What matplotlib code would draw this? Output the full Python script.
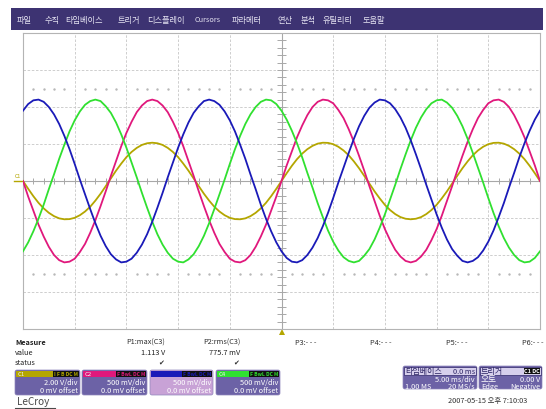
import numpy as np
import matplotlib.pyplot as plt
from matplotlib.patches import Rectangle, FancyBboxPatch, Polygon

plt.rcParams['font.family'] = ['Noto Sans CJK KR', 'DejaVu Sans']

W, H = 546, 410

# acquisition: 0.5 ms between plotted samples, 5 ms/div, 10 divisions
time_ms = [i * 0.5 for i in range(-50, 51)]

c1_volts = [0.00, -0.42, -0.82, -1.18, -1.48, -1.72, -1.90, -2.02, -2.07, -2.06,
            -1.99, -1.85, -1.65, -1.39, -1.06, -0.69, -0.28, 0.14, 0.56, 0.94,
            1.29, 1.57, 1.79, 1.95, 2.04, 2.07, 2.04, 1.95, 1.79, 1.57,
            1.29, 0.94, 0.56, 0.14, -0.28, -0.69, -1.06, -1.39, -1.65, -1.85,
            -1.99, -2.06, -2.07, -2.02, -1.90, -1.72, -1.48, -1.18, -0.82, -0.42,
            0.00, 0.42, 0.82, 1.18, 1.48, 1.72, 1.90, 2.02, 2.07, 2.06,
            1.99, 1.85, 1.65, 1.39, 1.06, 0.69, 0.28, -0.14, -0.56, -0.94,
            -1.29, -1.57, -1.79, -1.95, -2.04, -2.07, -2.04, -1.95, -1.79, -1.57,
            -1.29, -0.94, -0.56, -0.14, 0.28, 0.69, 1.06, 1.39, 1.65, 1.85,
            1.99, 2.06, 2.07, 2.02, 1.90, 1.72, 1.48, 1.18, 0.82, 0.42, 0.00]
c2_volts = [0.00, -0.21, -0.40, -0.59, -0.75, -0.89, -1.00, -1.07, -1.10, -1.09,
            -1.05, -0.96, -0.85, -0.70, -0.53, -0.34, -0.14, 0.07, 0.27, 0.47,
            0.65, 0.80, 0.93, 1.02, 1.08, 1.10, 1.08, 1.02, 0.93, 0.80,
            0.65, 0.47, 0.27, 0.07, -0.14, -0.34, -0.53, -0.70, -0.85, -0.96,
            -1.05, -1.09, -1.10, -1.07, -1.00, -0.89, -0.75, -0.59, -0.40, -0.21,
            0.00, 0.21, 0.40, 0.59, 0.75, 0.89, 1.00, 1.07, 1.10, 1.09,
            1.05, 0.96, 0.85, 0.70, 0.53, 0.34, 0.14, -0.07, -0.27, -0.47,
            -0.65, -0.80, -0.93, -1.02, -1.08, -1.10, -1.08, -1.02, -0.93, -0.80,
            -0.65, -0.47, -0.27, -0.07, 0.14, 0.34, 0.53, 0.70, 0.85, 0.96,
            1.05, 1.09, 1.10, 1.07, 1.00, 0.89, 0.75, 0.59, 0.40, 0.21, 0.00]
c3_volts = [0.95, 1.04, 1.09, 1.10, 1.07, 1.00, 0.90, 0.77, 0.61, 0.43,
            0.23, 0.02, -0.18, -0.38, -0.57, -0.74, -0.88, -0.99, -1.06, -1.10,
            -1.09, -1.05, -0.97, -0.86, -0.72, -0.55, -0.36, -0.16, 0.05, 0.25,
            0.45, 0.63, 0.79, 0.92, 1.01, 1.08, 1.10, 1.08, 1.03, 0.94,
            0.82, 0.67, 0.49, 0.30, 0.09, -0.11, -0.32, -0.51, -0.68, -0.83,
            -0.95, -1.04, -1.09, -1.10, -1.07, -1.00, -0.90, -0.77, -0.61, -0.43,
            -0.23, -0.02, 0.18, 0.38, 0.57, 0.74, 0.88, 0.99, 1.06, 1.10,
            1.09, 1.05, 0.97, 0.86, 0.72, 0.55, 0.36, 0.16, -0.05, -0.25,
            -0.45, -0.63, -0.79, -0.92, -1.01, -1.08, -1.10, -1.08, -1.03, -0.94,
            -0.82, -0.67, -0.49, -0.30, -0.09, 0.11, 0.32, 0.51, 0.68, 0.83, 0.95]
c4_volts = [-0.95, -0.83, -0.68, -0.51, -0.32, -0.11, 0.09, 0.30, 0.49, 0.67,
            0.82, 0.94, 1.03, 1.08, 1.10, 1.08, 1.01, 0.92, 0.79, 0.63,
            0.45, 0.25, 0.05, -0.16, -0.36, -0.55, -0.72, -0.86, -0.97, -1.05,
            -1.09, -1.10, -1.06, -0.99, -0.88, -0.74, -0.57, -0.38, -0.18, 0.02,
            0.23, 0.43, 0.61, 0.77, 0.90, 1.00, 1.07, 1.10, 1.09, 1.04,
            0.95, 0.83, 0.68, 0.51, 0.32, 0.11, -0.09, -0.30, -0.49, -0.67,
            -0.82, -0.94, -1.03, -1.08, -1.10, -1.08, -1.01, -0.92, -0.79, -0.63,
            -0.45, -0.25, -0.05, 0.16, 0.36, 0.55, 0.72, 0.86, 0.97, 1.05,
            1.09, 1.10, 1.06, 0.99, 0.88, 0.74, 0.57, 0.38, 0.18, -0.02,
            -0.23, -0.43, -0.61, -0.77, -0.90, -1.00, -1.07, -1.10, -1.09, -1.04, -0.95]

volts_per_div = [2.0, 0.5, 0.5, 0.5]
channel_names = ['C1', 'C2', 'C3', 'C4']
scale_labels = ['2.00 V/div', '500 mV/div', '500 mV/div', '500 mV/div']
offset_labels = ['0 mV offset', '0.0 mV offset', '0.0 mV offset', '0.0 mV offset']
channel_tags = ['I F B DC M', 'F BwL DC M', 'F BwL DC M', 'F BwL DC M']

menu_items = ['파일', '수직', '타임베이스', '트리거', '디스플레이', 'Cursors',
              '파라메터', '연산', '분석', '유틸리티', '도움말']

param_names = ['P1:max(C3)', 'P2:rms(C3)', 'P3:- - -', 'P4:- - -', 'P5:- - -', 'P6:- - -']
param_values = ['1.113 V', '775.7 mV', '', '', '', '']

trace_colors = ['#b4a600', '#e0187c', '#1a1ab8', '#30e030']
body_color = '#6c62a6'
fs = 5.3

fig = plt.figure(figsize=(W / 100, H / 100), dpi=100)

# overlay in pixel coordinates for the screen furniture
ov = fig.add_axes([0, 0, 1, 1])
ov.set_xlim(0, W)
ov.set_ylim(H, 0)
ov.axis('off')

# menu bar
ov.add_patch(Rectangle((11, 9), 532, 22, fc='#3d3372', ec='none'))
menu_x = [17, 45, 65, 118, 147, 195, 232, 278, 301, 323, 363]
for mx, item in zip(menu_x, menu_items):
    size = 5.3 if item == 'Cursors' else 5.9
    ov.text(mx, 20, item, color='#e6e4f2', fontsize=size, va='center', ha='left')

# trace label on the left and trigger marker at the bottom
ov.text(15, 177, 'C1', color=trace_colors[0], fontsize=3.8, va='center', ha='left')
ov.plot([14, 23], [182, 182], color=trace_colors[0], lw=1.0)
ov.add_patch(Polygon([[279, 336], [285, 336], [282, 330]], closed=True,
                     fc=trace_colors[0], ec='none'))

# measurement table
ov.text(15, 343, 'Measure', fontsize=fs, fontweight='bold', va='center', color='#202020')
ov.text(15, 353, 'value', fontsize=fs, va='center', color='#202020')
ov.text(15, 363, 'status', fontsize=fs, va='center', color='#202020')
param_right = [165, 240, 316, 391, 468, 543]
for px, name, val in zip(param_right, param_names, param_values):
    ov.text(px, 343, name, fontsize=fs, ha='right', va='center', color='#303030')
    if val:
        ov.text(px, 353, val, fontsize=fs, ha='right', va='center', color='#202020')
        ov.text(px - 4, 363, '\u2714', fontsize=5, ha='center', va='center',
                color='#303030', family=['DejaVu Sans'])

# channel descriptor boxes
box_x = [(15, 80), (82, 147), (150, 213), (216, 280)]
for i, (x0, x1) in enumerate(box_x):
    fc = '#c8a2d6' if channel_names[i] == 'C3' else body_color
    ov.add_patch(FancyBboxPatch((x0, 371), x1 - x0, 25,
                                boxstyle='round,pad=0,rounding_size=2',
                                fc=fc, ec='#8f86bb', lw=0.5))
    ov.add_patch(Rectangle((x0 + 1, 371.5), x1 - x0 - 2, 6.5, fc=trace_colors[i], ec='none'))
    ov.text(x0 + 3, 374.8, channel_names[i], fontsize=4.3, va='center', ha='left',
            color='#f0f0f0' if i != 2 else trace_colors[i])
    ov.text(x1 - 2, 374.8, channel_tags[i], fontsize=3.6, va='center', ha='right',
            color=trace_colors[i], fontweight='bold',
            bbox=dict(fc='#101010', ec='none', pad=0.4))
    ov.text(x1 - 2, 383.5, scale_labels[i], fontsize=fs, ha='right', va='center', color='white')
    ov.text(x1 - 2, 391.5, offset_labels[i], fontsize=fs, ha='right', va='center', color='white')

# timebase box
ov.add_patch(FancyBboxPatch((403, 367), 74, 23, boxstyle='round,pad=0,rounding_size=2',
                            fc=body_color, ec='#8f86bb', lw=0.5))
ov.add_patch(Rectangle((404, 368), 72, 7.5, fc='#d6cfec', ec='#2e2668', lw=0.5))
ov.text(405, 371.8, '타임베이스', fontsize=5.8, va='center', ha='left', color='#2a2262')
ov.text(475, 371.8, '0.0 ms', fontsize=fs, va='center', ha='right', color='#2a2262')
ov.text(475, 380, '5.00 ms/div', fontsize=fs, va='center', ha='right', color='white')
ov.text(405, 387, '1.00 MS', fontsize=fs, va='center', ha='left', color='white')
ov.text(475, 387, '20 MS/s', fontsize=fs, va='center', ha='right', color='white')

# trigger box
ov.add_patch(FancyBboxPatch((479, 367), 63, 23, boxstyle='round,pad=0,rounding_size=2',
                            fc=body_color, ec='#8f86bb', lw=0.5))
ov.add_patch(Rectangle((480, 368), 61, 7.5, fc='#d6cfec', ec='#2e2668', lw=0.5))
ov.text(481, 371.8, '트리거', fontsize=5.8, va='center', ha='left', color='#2a2262')
ov.text(540, 371.8, 'C1 DC', fontsize=4, va='center', ha='right', color='white',
        fontweight='bold', bbox=dict(fc='#101010', ec='none', pad=0.3))
ov.text(481, 379.5, '오토', fontsize=6.3, va='center', ha='left', color='white')
ov.text(540, 380, '0.00 V', fontsize=fs, va='center', ha='right', color='white')
ov.text(481, 387, 'Edge', fontsize=fs, va='center', ha='left', color='white')
ov.text(540, 387, 'Negative', fontsize=fs, va='center', ha='right', color='white')

ov.text(488, 401, '2007-05-15 오후 7:10:03', fontsize=fs, va='center', ha='center',
        color='#303030')
ov.text(17, 402.5, 'LeCroy', fontsize=7.2, va='center', ha='left', color='#4a4a4a')
ov.plot([15, 55], [408.5, 408.5], color='#4a4a4a', lw=0.8)

# scope graticule
ax = fig.add_axes([23 / W, 1 - 330 / H, 517 / W, 296 / H])
ax.set_xlim(-25, 25)
ax.set_ylim(-4, 4)
ax.set_xticks([])
ax.set_yticks([])
for sp in ax.spines.values():
    sp.set_color('#b4b4b4')
    sp.set_linewidth(0.8)

grid_kw = dict(color='#c6c6c6', lw=0.6, ls=(0, (3, 2)), zorder=1)
for gx in [-20, -15, -10, -5, 5, 10, 15, 20]:
    ax.axvline(gx, **grid_kw)
for gy in [-3, -2, -1, 1, 2, 3]:
    ax.axhline(gy, **grid_kw)
ax.axhline(0, color='#a8a8a8', lw=0.8, zorder=1)
ax.axvline(0, color='#a8a8a8', lw=0.8, zorder=1)
minor_x = np.arange(-25, 26, 1)
minor_y = np.arange(-4, 4.01, 0.2)
ax.vlines(minor_x, -0.08, 0.08, color='#a8a8a8', lw=0.7, zorder=1)
ax.hlines(minor_y, -0.45, 0.45, color='#a8a8a8', lw=0.7, zorder=1)
dot_x = [x for x in minor_x if x % 5 != 0]
for dy in (2.5, -2.5):
    ax.plot(dot_x, [dy] * len(dot_x), ls='none', marker='s', ms=0.7,
            color='#b8b8b8', zorder=1)

# traces, scaled to divisions
traces = [(c1_volts, 0), (c2_volts, 1), (c4_volts, 3), (c3_volts, 2)]
for volts, ch in traces:
    ax.plot(time_ms, np.array(volts) / volts_per_div[ch], color=trace_colors[ch],
            lw=1.3, zorder=3, solid_joinstyle='round')

fig.savefig('out.png', dpi=100)
